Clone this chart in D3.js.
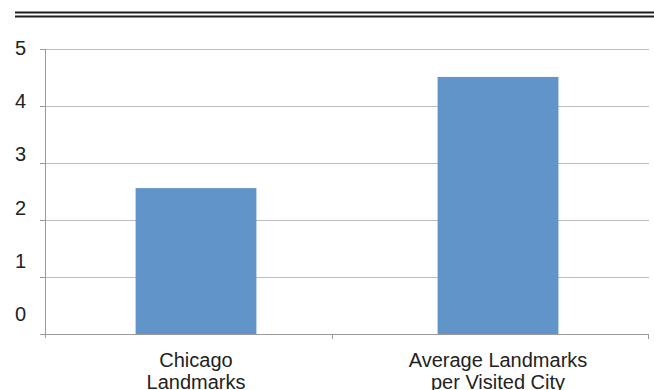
<!DOCTYPE html>
<html>
<head>
<meta charset="utf-8">
<script src="https://cdn.jsdelivr.net/npm/d3@7"></script>
<style>
  html, body { margin: 0; padding: 0; background: #fff; }
  svg { display: block; font-family: "Liberation Sans", Arial, Helvetica, sans-serif; }
</style>
</head>
<body>
<svg id="chart" width="654" height="390"></svg>
<script>
// Landmark counts per category
const categories = [["Chicago", "Landmarks"], ["Average Landmarks", "per Visited City"]];
const values = [2.56, 4.51];
const yTicks = [0, 1, 2, 3, 4, 5];
const yTickLabels = ["0", "1", "2", "3", "4", "5"];

const svg = d3.select("#chart");
const W = 654, H = 390;
const plot = { left: 45, right: 649, top: 49, bottom: 334 };

// Double rule across the top
svg.append("line").attr("x1", 15).attr("x2", W).attr("y1", 12.5).attr("y2", 12.5)
  .attr("stroke", "#1e1e1e").attr("stroke-width", 2);
svg.append("line").attr("x1", 15).attr("x2", W).attr("y1", 16.5).attr("y2", 16.5)
  .attr("stroke", "#1e1e1e").attr("stroke-width", 2);

const keys = categories.map(c => c.join(" "));
const x = d3.scaleBand().domain(keys).range([plot.left, plot.right])
  .paddingInner(0.6).paddingOuter(0.3);
const y = d3.scaleLinear().domain([0, 5]).range([plot.bottom, plot.top]);
// tick labels sit on a slightly tighter scale than the gridlines
const yLabel = d3.scaleLinear().domain([0, 5]).range([314, 48]);

// Gridlines
svg.append("g")
  .attr("transform", `translate(${plot.left},0)`)
  .call(d3.axisLeft(y).tickValues(yTicks).tickSize(-(plot.right - plot.left)).tickFormat(""))
  .call(g => g.select(".domain").remove())
  .call(g => g.selectAll(".tick line").attr("stroke", "#bdbdbd").attr("stroke-width", 1)
    .attr("shape-rendering", "crispEdges"));

// Bars
svg.append("g").selectAll("rect").data(values).join("rect")
  .attr("x", (d, i) => x(keys[i]))
  .attr("width", x.bandwidth())
  .attr("y", d => y(d))
  .attr("height", d => y(0) - y(d))
  .attr("fill", "#6194c8");

// Left axis with outward ticks
svg.append("g")
  .attr("transform", `translate(${plot.left},0)`)
  .call(d3.axisLeft(y).tickValues(yTicks).tickSize(5).tickSizeOuter(0).tickFormat(""))
  .call(g => g.select(".domain").attr("stroke", "#9a9a9a").attr("shape-rendering", "crispEdges")
    .attr("d", `M0.5,${plot.top}V${plot.bottom + 4}`))
  .call(g => g.selectAll(".tick line").attr("stroke", "#9a9a9a").attr("shape-rendering", "crispEdges"));

// Y tick labels
svg.append("g").selectAll("text").data(yTicks).join("text")
  .attr("x", 26)
  .attr("y", d => yLabel(d))
  .attr("dy", "0.35em")
  .attr("text-anchor", "end")
  .attr("font-size", 20)
  .attr("fill", "#222")
  .text((d, i) => yTickLabels[i]);

// Bottom axis: category divider ticks
const dividers = [plot.left + 0.477 * (plot.right - plot.left), plot.right];
const xb = svg.append("g");
xb.append("line").attr("x1", plot.left).attr("x2", plot.right)
  .attr("y1", plot.bottom + 0.5).attr("y2", plot.bottom + 0.5)
  .attr("stroke", "#9a9a9a");
xb.selectAll("line.tk").data(dividers).join("line").attr("class", "tk")
  .attr("x1", d => Math.round(d) - 0.5).attr("x2", d => Math.round(d) - 0.5)
  .attr("y1", plot.bottom).attr("y2", plot.bottom + 5)
  .attr("stroke", "#9a9a9a");

// Category labels
const lab = svg.append("g").selectAll("text").data(categories).join("text")
  .attr("text-anchor", "middle")
  .attr("font-size", 20)
  .attr("fill", "#222");
lab.selectAll("tspan").data((d, i) => d.map(t => ({ t, i }))).join("tspan")
  .attr("x", d => x(keys[d.i]) + x.bandwidth() / 2)
  .attr("y", (d, j) => 367 + j * 22)
  .text(d => d.t);
</script>
</body>
</html>
